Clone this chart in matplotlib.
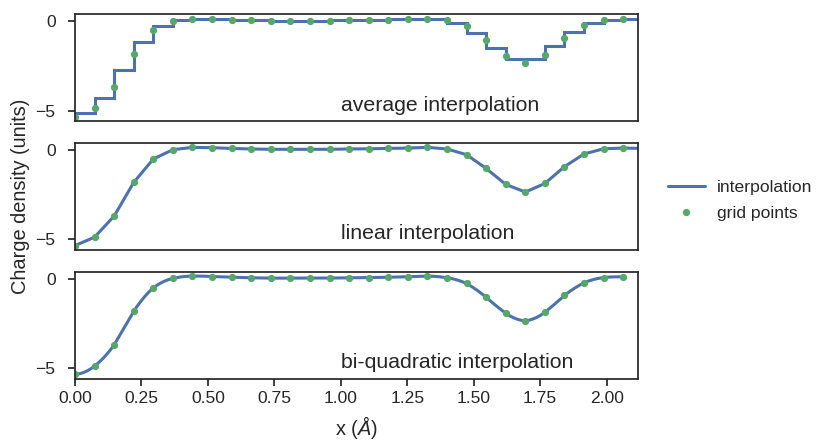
import numpy as np
import matplotlib
matplotlib.use("Agg")
import matplotlib.pyplot as plt
import seaborn as sns

sns.set_style("ticks")
plt.rcParams["font.family"] = ["Liberation Sans", "DejaVu Sans"]
plt.rcParams["mathtext.fontset"] = "custom"
plt.rcParams["mathtext.rm"] = "Liberation Sans"
plt.rcParams["mathtext.it"] = "Liberation Sans:italic"

# grid points (Angstrom) and charge density values
# first and last entries lie just outside the plotted range
grid_x = [-0.0737, 0.0000, 0.0737, 0.1473, 0.2210, 0.2946, 0.3683, 0.4420, 0.5156,
          0.5893, 0.6629, 0.7366, 0.8103, 0.8839, 0.9576, 1.0312, 1.1049,
          1.1786, 1.2522, 1.3259, 1.3995, 1.4732, 1.5469, 1.6205, 1.6942,
          1.7678, 1.8415, 1.9152, 1.9888, 2.0625, 2.1361]
grid_y = [-4.87, -5.34, -4.87, -3.69, -1.81, -0.50, 0.02, 0.15, 0.13, 0.09,
          0.06, 0.04, 0.04, 0.04, 0.04, 0.06, 0.07, 0.09, 0.11, 0.15,
          0.06, -0.26, -1.03, -1.92, -2.35, -1.87, -0.93, -0.22, 0.07,
          0.11, 0.09]

panel_titles = ["average interpolation", "linear interpolation",
                "bi-quadratic interpolation"]

blue = "#4C72B0"
green = "#55A868"

gx = np.array(grid_x)
gy = np.array(grid_y)


def quad_curve(x, y, n=40):
    # blend of the two parabolas through neighbouring point triples
    xs, ys = [], []
    for i in range(1, len(x) - 2):
        t = np.linspace(0, 1, n, endpoint=False)
        p0, p1, p2, p3 = y[i - 1], y[i], y[i + 1], y[i + 2]
        left = p1 + t * (p2 - p0) / 2 + t**2 * (p0 - 2 * p1 + p2) / 2
        right = p1 + t * (-p3 + 4 * p2 - 3 * p1) / 2 + t**2 * (p1 - 2 * p2 + p3) / 2
        xs.append(x[i] + t * (x[i + 1] - x[i]))
        ys.append(0.5 * (left + right))
    return np.concatenate(xs), np.concatenate(ys)


fig, axes = plt.subplots(3, 1, figsize=(8.17, 4.4), dpi=100, sharex=True)
fig.subplots_adjust(left=0.0918, right=0.7805, top=0.968, bottom=0.1386, hspace=0.2)

# average: mean of the two neighbouring grid values over each interval
axes[0].stairs((gy[:-1] + gy[1:]) / 2, gx, color=blue, lw=2.2, baseline=None)
axes[1].plot(gx, gy, color=blue, lw=2.2)
qx, qy = quad_curve(gx, gy)
axes[2].plot(qx, qy, color=blue, lw=2.2, label="interpolation")

for ax, title in zip(axes, panel_titles):
    ax.plot(gx, gy, "o", color=green, ms=4.2, label="grid points")
    ax.set_xlim(0, 2.117)
    ax.set_ylim(-5.6, 0.4)
    ax.set_yticks([0, -5])
    ax.text(1.0, 0.1, title, transform=ax.get_xaxis_transform(),
            ha="left", va="baseline", fontsize=15.3, color="#262626")
    for s in ax.spines.values():
        s.set_linewidth(1.25)
        s.set_color("#262626")
    ax.tick_params(labelsize=12.6, length=5, width=1.25, colors="#262626")
    ax.tick_params(axis="y", pad=9)

for ax in axes[:2]:
    ax.tick_params(axis="x", length=0)

axes[1].set_ylabel("Charge density (units)", fontsize=14.4, color="#262626")
axes[2].set_xlabel(r"x ($\AA$)", fontsize=14.4, color="#262626", labelpad=6)
axes[2].set_xticks([0, 0.25, 0.5, 0.75, 1.0, 1.25, 1.5, 1.75, 2.0])

handles, labels = axes[2].get_legend_handles_labels()
fig.legend(handles, labels, loc="center left", bbox_to_anchor=(0.809, 0.545),
           frameon=False, fontsize=12.6, numpoints=1, handlelength=2.1,
           handletextpad=0.72, labelspacing=0.6, borderaxespad=0.0)

fig.savefig("out.png", dpi=100)
